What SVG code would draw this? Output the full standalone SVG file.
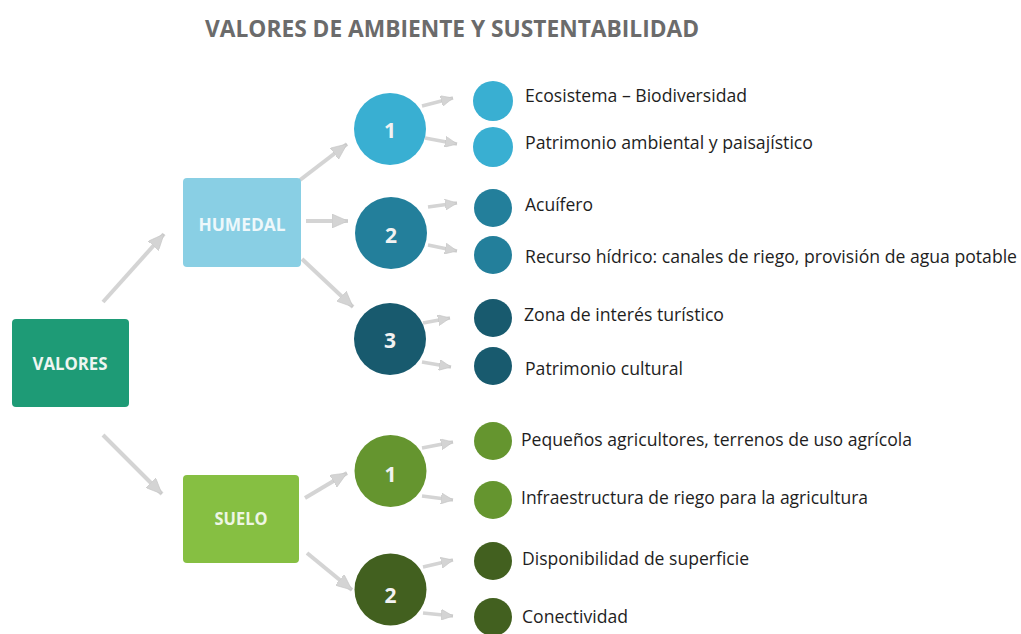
<svg xmlns="http://www.w3.org/2000/svg" width="1021" height="634" viewBox="0 0 1021 634">
<defs>
<style>
.title{font-family:"Open Sans","Liberation Sans",sans-serif;font-weight:bold;font-size:23px;fill:#6b6b6b}
.box{font-family:"Open Sans","Liberation Sans",sans-serif;font-weight:bold;font-size:18px;text-anchor:middle}
.num{font-family:"Open Sans","Liberation Sans",sans-serif;font-weight:bold;font-size:21px;fill:#f2f2f2;text-anchor:middle}
.lbl{font-family:"Open Sans","Liberation Sans",sans-serif;font-size:17.5px;fill:#1e1e1e}
.big{stroke:#d4d4d4;stroke-width:4;fill:none;marker-end:url(#hb)}
.sm{stroke:#d4d4d4;stroke-width:3.5;fill:none;marker-end:url(#hs)}
</style>
<marker id="hb" markerUnits="userSpaceOnUse" markerWidth="16" markerHeight="14" viewBox="0 0 16 14" refX="16" refY="7" orient="auto">
<path d="M0,0 L16,7 L0,14 z" fill="#d4d4d4" stroke="#c4c4c4" stroke-width="0.6"/>
</marker>
<marker id="hs" markerUnits="userSpaceOnUse" markerWidth="12" markerHeight="11" viewBox="0 0 12 11" refX="12" refY="5.5" orient="auto">
<path d="M0,0 L12,5.5 L0,11 z" fill="#d4d4d4" stroke="#c4c4c4" stroke-width="0.6"/>
</marker>
</defs>
<rect width="1021" height="634" fill="#ffffff"/>
<text class="title" x="205" y="37" textLength="494" lengthAdjust="spacingAndGlyphs">VALORES DE AMBIENTE Y SUSTENTABILIDAD</text>

<g id="connectors">
<line class="big" x1="103" y1="302" x2="164" y2="234"/>
<line class="big" x1="103" y1="435" x2="162" y2="494"/>
<line class="big" x1="300" y1="180" x2="347" y2="144"/>
<line class="big" x1="306" y1="221" x2="348" y2="221"/>
<line class="big" x1="302" y1="259" x2="353" y2="307"/>
<line class="big" x1="305" y1="498" x2="347" y2="473"/>
<line class="big" x1="307" y1="553" x2="352" y2="590"/>
<line class="sm" x1="422" y1="106" x2="453" y2="98"/>
<line class="sm" x1="425" y1="138" x2="457" y2="144"/>
<line class="sm" x1="428" y1="207" x2="457" y2="203"/>
<line class="sm" x1="428" y1="245" x2="457" y2="251"/>
<line class="sm" x1="423" y1="323" x2="450" y2="318"/>
<line class="sm" x1="422" y1="362" x2="451" y2="367"/>
<line class="sm" x1="422" y1="448" x2="453" y2="442"/>
<line class="sm" x1="422" y1="496" x2="453" y2="500"/>
<line class="sm" x1="423" y1="567" x2="453" y2="560"/>
<line class="sm" x1="423" y1="613" x2="453" y2="616"/>
</g>

<g id="valores">
<rect x="12" y="319" width="117" height="88" rx="4" fill="#1e9b76"/>
<text class="box" x="70" y="370" fill="#eef5f1" textLength="75" lengthAdjust="spacingAndGlyphs">VALORES</text>
</g>
<g id="humedal">
<rect x="183" y="178" width="118" height="89" rx="4" fill="#89cfe4"/>
<text class="box" x="242" y="231" fill="#eef8fb" textLength="87" lengthAdjust="spacingAndGlyphs">HUMEDAL</text>
</g>
<g id="suelo">
<rect x="183" y="475" width="116" height="88" rx="4" fill="#86bf42"/>
<text class="box" x="241" y="525" fill="#eef6e4" textLength="53" lengthAdjust="spacingAndGlyphs">SUELO</text>
</g>

<g id="h1">
<circle cx="390" cy="129" r="36" fill="#39afd2"/>
<text class="num" x="390" y="138">1</text>
</g>
<g id="h2">
<circle cx="391" cy="233" r="36" fill="#237f9b"/>
<text class="num" x="391" y="243">2</text>
</g>
<g id="h3">
<circle cx="390" cy="339" r="36" fill="#185a6e"/>
<text class="num" x="390" y="348">3</text>
</g>
<g id="s1">
<circle cx="390.5" cy="471" r="36" fill="#65952f"/>
<text class="num" x="390.5" y="482">1</text>
</g>
<g id="s2">
<circle cx="390.5" cy="589.5" r="36" fill="#42601f"/>
<text class="num" x="390.5" y="603">2</text>
</g>

<g id="h1a">
<circle cx="493" cy="101" r="20" fill="#39afd2"/>
<text class="lbl" x="525" y="102" textLength="222" lengthAdjust="spacingAndGlyphs">Ecosistema – Biodiversidad</text>
</g>
<g id="h1b">
<circle cx="493" cy="147" r="20" fill="#39afd2"/>
<text class="lbl" x="525" y="149" textLength="288" lengthAdjust="spacingAndGlyphs">Patrimonio ambiental y paisajístico</text>
</g>
<g id="h2a">
<circle cx="493" cy="208" r="19" fill="#237f9b"/>
<text class="lbl" x="525" y="211" textLength="68" lengthAdjust="spacingAndGlyphs">Acuífero</text>
</g>
<g id="h2b">
<circle cx="493" cy="255" r="19" fill="#237f9b"/>
<text class="lbl" x="525" y="263" textLength="492" lengthAdjust="spacingAndGlyphs">Recurso hídrico: canales de riego, provisión de agua potable</text>
</g>
<g id="h3a">
<circle cx="493" cy="318" r="19" fill="#185a6e"/>
<text class="lbl" x="524" y="321" textLength="200" lengthAdjust="spacingAndGlyphs">Zona de interés turístico</text>
</g>
<g id="h3b">
<circle cx="493" cy="366" r="19" fill="#185a6e"/>
<text class="lbl" x="525" y="375" textLength="158" lengthAdjust="spacingAndGlyphs">Patrimonio cultural</text>
</g>
<g id="s1a">
<circle cx="493" cy="441" r="19" fill="#65952f"/>
<text class="lbl" x="521" y="446" textLength="391" lengthAdjust="spacingAndGlyphs">Pequeños agricultores, terrenos de uso agrícola</text>
</g>
<g id="s1b">
<circle cx="493" cy="500" r="19" fill="#65952f"/>
<text class="lbl" x="521" y="504" textLength="347" lengthAdjust="spacingAndGlyphs">Infraestructura de riego para la agricultura</text>
</g>
<g id="s2a">
<circle cx="493" cy="561" r="19" fill="#42601f"/>
<text class="lbl" x="522" y="565" textLength="227" lengthAdjust="spacingAndGlyphs">Disponibilidad de superficie</text>
</g>
<g id="s2b">
<circle cx="493" cy="617" r="19" fill="#42601f"/>
<text class="lbl" x="522" y="623" textLength="106" lengthAdjust="spacingAndGlyphs">Conectividad</text>
</g>
</svg>
